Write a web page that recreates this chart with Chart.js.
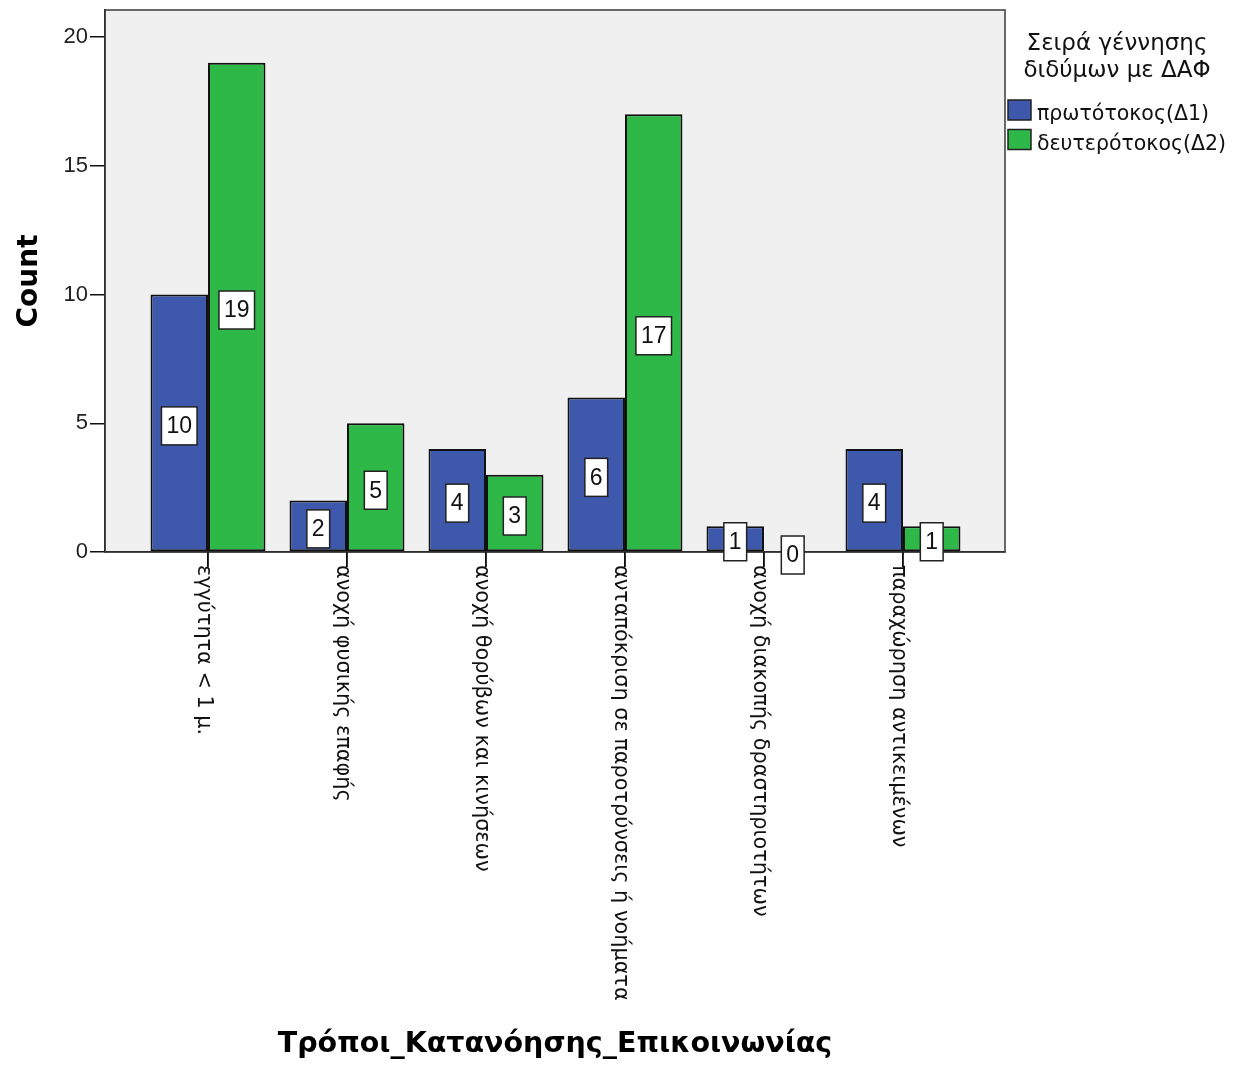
<!DOCTYPE html>
<html>
<head>
<meta charset="utf-8">
<title>Τρόποι_Κατανόησης_Επικοινωνίας</title>
<script src="https://cdn.jsdelivr.net/npm/chart.js@4"></script>
<style>
  html, body { margin: 0; padding: 0; background: #fff; }
  #wrap { width: 1239px; height: 1068px; }
</style>
</head>
<body>
<div id="wrap"><canvas id="chart"></canvas></div>
<script>
// Chart data
const categories = [
  'εγγύτητα < 1 μ.',
  'ανοχή φυσικής επαφής',
  'ανοχή θορύβων και κινήσεων',
  'ανταπόκριση σε παροτρύνσεις ή νοήματα',
  'ανοχή διακοπής δραστηριοτήτων',
  'παραχώρηση αντικειμένων'
];
const firstBorn = [10, 2, 4, 6, 1, 4];
const secondBorn = [19, 5, 3, 17, 0, 1];
const seriesNames = ['πρωτότοκος(Δ1)', 'δευτερότοκος(Δ2)'];
const seriesColors = ['#3E58AC', '#2EB848'];
const legendTitle = ['Σειρά γέννησης', 'διδύμων με ΔΑΦ'];
const yTicks = [0, 5, 10, 15, 20];
const xTitle = 'Τρόποι_Κατανόησης_Επικοινωνίας';
const yTitle = 'Count';

const SANS = '"Liberation Sans", Arial, sans-serif';
const WIDE = '"DejaVu Sans", sans-serif';

// grey plot box behind the bars
const plotBackground = {
  id: 'plotBackground',
  beforeDraw(chart) {
    const { ctx, chartArea: a } = chart;
    ctx.save();
    ctx.fillStyle = '#F0F0F0';
    ctx.fillRect(a.left, a.top, a.right - a.left, a.bottom - a.top);
    ctx.restore();
  },
  beforeDatasetsDraw(chart) {
    const { ctx, chartArea: a } = chart;
    ctx.save();
    ctx.strokeStyle = '#3a3a3a';
    ctx.lineWidth = 1.5;
    ctx.strokeRect(a.left, a.top, a.right - a.left, a.bottom - a.top);
    ctx.restore();
  }
};

// boxed value labels in the middle of each bar
const valueLabels = {
  id: 'valueLabels',
  afterDatasetsDraw(chart) {
    const { ctx } = chart;
    ctx.save();
    ctx.font = '23px ' + SANS;
    ctx.textAlign = 'center';
    ctx.textBaseline = 'middle';
    chart.data.datasets.forEach((ds, di) => {
      const meta = chart.getDatasetMeta(di);
      meta.data.forEach((bar, i) => {
        const text = String(ds.data[i].y);
        const cx = bar.x;
        const cy = (bar.y + bar.base) / 2 + 3;
        const w = ctx.measureText(text).width + 10;
        const h = 38;
        ctx.fillStyle = '#fff';
        ctx.fillRect(cx - w / 2, cy - h / 2, w, h);
        ctx.strokeStyle = '#222';
        ctx.lineWidth = 1.5;
        ctx.strokeRect(cx - w / 2, cy - h / 2, w, h);
        ctx.fillStyle = '#111';
        ctx.fillText(text, cx, cy + 1);
      });
    });
    ctx.restore();
  }
};

// category labels rotated clockwise, reading downwards from the tick
const categoryLabels = {
  id: 'categoryLabels',
  afterDraw(chart) {
    const { ctx, scales: { x } } = chart;
    ctx.save();
    ctx.strokeStyle = '#111';
    ctx.lineWidth = 1.5;
    ctx.font = '20.8px ' + WIDE;
    ctx.fillStyle = '#111';
    ctx.textAlign = 'left';
    ctx.textBaseline = 'middle';
    categories.forEach((label, i) => {
      const px = x.getPixelForValue(i);
      // tick mark under the axis
      ctx.beginPath();
      ctx.moveTo(px, x.top);
      ctx.lineTo(px, x.top + 15);
      ctx.stroke();
      ctx.save();
      ctx.translate(px - 5, x.top + 13);
      ctx.rotate(Math.PI / 2);
      ctx.fillText(label, 0, 0);
      ctx.restore();
    });
    ctx.restore();
  }
};

// legend with two-line title on the right
const sideLegend = {
  id: 'sideLegend',
  afterDraw(chart) {
    const { ctx, chartArea: a } = chart;
    ctx.save();
    ctx.fillStyle = '#111';
    ctx.font = '23px ' + WIDE;
    ctx.textAlign = 'center';
    ctx.textBaseline = 'alphabetic';
    ctx.fillText(legendTitle[0], a.right + 112, 50);
    ctx.fillText(legendTitle[1], a.right + 112, 77);
    ctx.textAlign = 'left';
    ctx.font = '20.5px ' + WIDE;
    chart.data.datasets.forEach((ds, i) => {
      const top = 100 + i * 29.5;
      ctx.fillStyle = ds.backgroundColor;
      ctx.fillRect(a.right + 3, top, 23, 20);
      ctx.strokeStyle = '#222';
      ctx.lineWidth = 1.5;
      ctx.strokeRect(a.right + 3, top, 23, 20);
      ctx.fillStyle = '#111';
      ctx.fillText(ds.label, a.right + 32, top + 20);
    });
    ctx.restore();
  }
};

const datasets = [firstBorn, secondBorn].map((values, s) => ({
  label: seriesNames[s],
  data: values.map((v, i) => ({ x: i, y: v })),
  backgroundColor: seriesColors[s],
  borderColor: '#111',
  borderWidth: 2,
  borderSkipped: false,
  categoryPercentage: 0.827,
  barPercentage: 1
}));

new Chart(document.getElementById('chart'), {
  type: 'bar',
  data: { datasets },
  options: {
    responsive: true,
    maintainAspectRatio: false,
    animation: false,
    devicePixelRatio: 1,
    layout: { padding: { top: 10, right: 234, left: 0, bottom: 0 } },
    plugins: {
      legend: { display: false },
      tooltip: { enabled: false }
    },
    scales: {
      x: {
        type: 'linear',
        offset: false,
        min: -0.741,
        max: 5.734,
        grid: { offset: false, drawOnChartArea: false, drawTicks: true, tickLength: 15, color: '#111', tickColor: '#111', lineWidth: 1.5 },
        border: { display: true, color: '#111', width: 1.5 },
        ticks: { display: true, stepSize: 1, callback: () => '' },
        afterBuildTicks: s => { s.ticks = categories.map((c, i) => ({ value: i })); },
        afterFit: s => { s.height = 516; s.paddingLeft = 0; s.paddingRight = 0; },
        title: {
          display: true,
          text: xTitle,
          color: '#000',
          font: { family: WIDE, weight: 'bold', size: 28.5 },
          padding: { top: 0, bottom: 6 }
        }
      },
      y: {
        min: 0,
        max: 21.05,
        grid: { drawOnChartArea: false, drawTicks: true, tickLength: 15, color: '#111', lineWidth: 1.5 },
        border: { display: true, color: '#111', width: 1.5 },
        ticks: { font: { family: SANS, size: 22 }, color: '#222', padding: 2 },
        afterBuildTicks: s => { s.ticks = yTicks.map(v => ({ value: v })); },
        afterFit: s => { s.width = 105; s.paddingTop = 0; s.paddingBottom = 0; },
        title: {
          display: true,
          text: yTitle,
          color: '#000',
          font: { family: WIDE, weight: 'bold', size: 28 },
          padding: { top: 13, bottom: 0 }
        }
      }
    }
  },
  plugins: [plotBackground, valueLabels, categoryLabels, sideLegend]
});
</script>
</body>
</html>
